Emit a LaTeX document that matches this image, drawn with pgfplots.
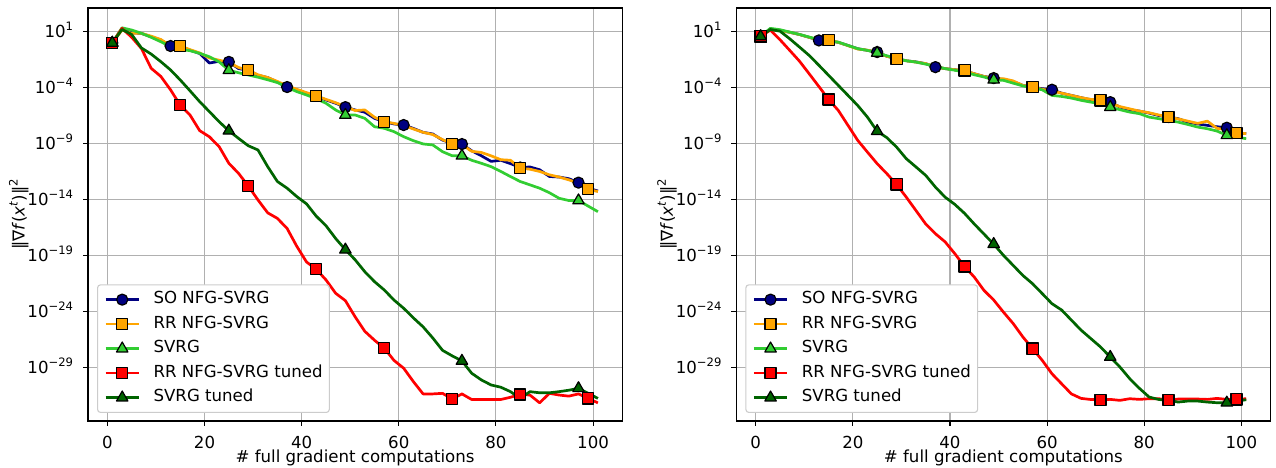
\documentclass[border=0pt]{standalone}
\usepackage{fontspec}
\setmainfont{DejaVu Sans}
\usepackage{pgfplots}
\usepackage{pgfplotstable}
\pgfplotsset{compat=1.18}
\definecolor{cnavy}{RGB}{0,0,128}
\definecolor{corange}{RGB}{255,165,0}
\definecolor{clime}{RGB}{50,205,50}
\definecolor{cred}{RGB}{255,0,0}
\definecolor{cdg}{RGB}{0,100,0}
\definecolor{cgrid}{RGB}{176,176,176}
\definecolor{cleg}{RGB}{204,204,204}
\newcommand\sx[1]{\raisebox{0.42em}{\fontsize{11.6pt}{12pt}\selectfont #1}}

\pgfplotstableread{
x so rr svrg rrt svrgt
1 1.0 1.0 1.0 1.0 1.0
3 15.8 14.1 22.4 20.0 15.8
5 7.94 7.08 14.1 3.16 5.62
7 7.08 7.08 7.24 3.16e-1 3.55e-1
9 3.55 3.98 3.16 5.37e-3 1e-1
11 1.78 2.0 1.26 1e-3 2.09e-2
13 5.25e-1 5.62e-1 4.57e-1 6.31e-5 3.80e-3
15 4.47e-1 5.25e-1 2.69e-1 2.63e-6 4.79e-4
17 2.24e-1 2.51e-1 2.0e-1 3.55e-7 5.25e-5
19 1.12e-1 1.26e-1 1.17e-1 1.41e-8 5.50e-6
21 1.58e-2 4.47e-2 5.75e-2 3.98e-9 7.08e-7
23 2.24e-2 2.82e-2 2.0e-2 5.25e-10 8.91e-8
25 2.0e-2 1.78e-2 3.55e-3 1.70e-11 1.38e-8
27 5.01e-3 6.31e-3 2.14e-3 2.14e-12 2.88e-9
29 3.55e-3 3.55e-3 1.35e-3 1.58e-13 6.31e-10
31 1.26e-3 1.41e-3 8.51e-4 8.91e-15 2.63e-10
33 7.94e-4 7.94e-4 5.01e-4 6.31e-16 8.51e-12
35 3.16e-4 3.55e-4 2.82e-4 2.0e-16 3.98e-13
37 1.12e-4 1.41e-4 1.07e-4 2.51e-17 1e-13
39 6.31e-5 7.08e-5 4.37e-5 6.31e-19 1.78e-14
41 3.16e-5 3.55e-5 2.19e-5 2.51e-20 3.98e-15
43 1.78e-5 1.78e-5 1e-5 5.62e-21 3.16e-16
45 7.94e-6 8.91e-6 3.98e-6 6.31e-22 4.47e-17
47 3.98e-6 4.47e-6 1e-6 3.98e-23 3.16e-18
49 1.78e-6 2.0e-6 3.55e-7 8.71e-24 3.16e-19
51 1e-6 8.91e-7 3.55e-7 3.16e-25 3.98e-20
53 6.31e-7 1e-6 1.78e-7 1.58e-26 3.39e-21
55 1.78e-7 2.24e-7 3.16e-8 2.51e-27 4.37e-22
57 8.91e-8 8.91e-8 2.29e-8 5.01e-28 7.94e-23
59 5.62e-8 6.31e-8 1.15e-8 3.98e-29 1e-23
61 4.47e-8 3.98e-8 4.07e-9 7.94e-30 1.82e-24
63 2.24e-8 2.0e-8 1.78e-9 5.01e-31 2.51e-25
65 1e-8 1e-8 9.12e-10 3.98e-32 3.98e-26
67 7.08e-9 6.31e-9 7.41e-10 3.98e-32 3.98e-27
69 2.0e-9 2.24e-9 1.86e-10 4.47e-32 3.16e-28
71 1e-9 8.91e-10 7.94e-11 1.41e-32 1e-28
73 8.91e-10 7.94e-10 7.94e-11 3.98e-32 3.55e-29
75 2.24e-10 2.0e-10 3.16e-11 1.26e-32 2.82e-30
77 7.94e-11 1.58e-10 1.70e-11 1.26e-32 7.08e-31
79 2.51e-11 7.94e-11 8.51e-12 1.26e-32 2.51e-31
81 3.16e-11 3.55e-11 3.16e-12 1.26e-32 1.58e-31
83 1.58e-11 3.16e-11 1.10e-12 2.0e-32 6.31e-32
85 7.08e-12 6.31e-12 3.98e-13 3.55e-32 1.58e-32
87 7.94e-12 5.01e-12 2.0e-13 3.16e-32 6.31e-32
89 4.47e-12 3.16e-12 1e-13 6.31e-33 5.01e-32
91 1.12e-12 1.58e-12 3.98e-14 4.47e-32 5.01e-32
93 1e-12 1e-12 1.26e-14 3.16e-32 6.31e-32
95 7.08e-13 5.62e-13 7.94e-15 2.51e-32 8.51e-32
97 3.16e-13 2.82e-13 7.94e-15 3.98e-32 1.26e-31
99 1e-13 7.94e-14 2.51e-15 1.58e-32 4.47e-32
101 5.62e-14 5.01e-14 7.94e-16 6.31e-33 1.58e-32
}\tabL

\pgfplotstableread{
x so rr svrg rrt svrgt
1 3.80 3.80 3.80 3.80 3.80
3 17.8 15.8 20.0 14.1 15.8
5 13.2 12.6 15.1 1.91 11.2
7 8.91 8.91 9.33 2.14e-1 2.34
9 5.62 5.62 5.75 2.34e-2 4.27e-1
11 3.16 3.16 3.31 1.74e-3 7.59e-2
13 1.66 1.78 2.0 1.26e-4 1e-2
15 1.58 1.78 1.41 8.71e-6 1.26e-3
17 1.12 1.12 1.17 9.12e-7 1.58e-4
19 5.89e-1 5.62e-1 5.89e-1 4.17e-8 2.0e-5
21 3.02e-1 2.82e-1 3.02e-1 1.91e-9 2.51e-6
23 2.14e-1 2.24e-1 2.14e-1 1.70e-10 2.29e-7
25 1.51e-1 1.41e-1 1.26e-1 1.58e-11 1.26e-8
27 6.31e-2 6.31e-2 7.08e-2 2.0e-12 3.31e-9
29 3.80e-2 3.80e-2 3.98e-2 2.19e-13 4.79e-10
31 2.51e-2 2.51e-2 2.51e-2 1.58e-14 4.37e-11
33 2.0e-2 1.91e-2 1.91e-2 1e-15 7.94e-12
35 1.38e-2 1.41e-2 1.26e-2 6.31e-17 1.41e-12
37 6.76e-3 7.08e-3 7.94e-3 8.51e-18 1.26e-13
39 5.01e-3 5.01e-3 5.01e-3 1.58e-18 1.58e-14
41 3.98e-3 3.98e-3 3.55e-3 1.38e-19 3.55e-15
43 3.16e-3 3.47e-3 2.51e-3 1e-20 5.62e-16
45 1.74e-3 1.74e-3 1.41e-3 1.12e-21 6.31e-17
47 1e-3 1e-3 8.91e-4 7.24e-23 7.94e-18
49 7.08e-4 6.31e-4 5.01e-4 1e-23 1e-18
51 5.37e-4 6.31e-4 4.47e-4 8.32e-25 1e-19
53 3.55e-4 3.98e-4 2.51e-4 7.94e-26 1.26e-20
55 1.58e-4 1.58e-4 1.41e-4 5.01e-27 1.58e-21
57 1.12e-4 1.12e-4 1e-4 4.47e-28 2.88e-22
59 7.94e-5 7.08e-5 6.31e-5 3.98e-29 3.72e-23
61 6.46e-5 5.01e-5 2.0e-5 2.51e-30 4.68e-24
63 3.16e-5 3.16e-5 1.62e-5 3.16e-31 1.26e-24
65 2.0e-5 2.0e-5 1.15e-5 3.98e-32 1.58e-25
67 1.26e-5 1.26e-5 7.24e-6 1.58e-32 2.0e-26
69 8.32e-6 8.91e-6 5.01e-6 1.26e-32 3.55e-27
71 7.24e-6 7.24e-6 3.63e-6 1.20e-32 6.31e-28
73 5.01e-6 3.98e-6 1.78e-6 1.29e-32 7.94e-29
75 1.82e-6 2.0e-6 1.05e-6 1.05e-32 1e-29
77 1.05e-6 1.26e-6 6.46e-7 1.48e-32 9.33e-31
79 7.94e-7 7.94e-7 4.68e-7 1.29e-32 1.26e-31
81 5.25e-7 5.62e-7 2.29e-7 1.48e-32 2.09e-32
83 3.16e-7 3.55e-7 1.66e-7 1.48e-32 1.26e-32
85 2.29e-7 2.29e-7 1.17e-7 1.12e-32 1.05e-32
87 1.66e-7 1.58e-7 8.13e-8 1.38e-32 7.41e-33
89 8.13e-8 1e-7 5.01e-8 1.38e-32 9.12e-33
91 5.62e-8 6.31e-8 2.95e-8 1.38e-32 9.12e-33
93 4.17e-8 1e-7 2.09e-8 1.29e-32 7.41e-33
95 3.16e-8 2.24e-8 1.29e-8 1.58e-32 6.46e-33
97 2.57e-8 1.78e-8 5.37e-9 1.29e-32 6.46e-33
99 9.12e-9 9.12e-9 3.80e-9 1.29e-32 9.12e-33
101 7.59e-9 7.59e-9 2.69e-9 1.48e-32 1.20e-32
}\tabR

\pgfplotsset{
  legend image code/.code={\draw[mark repeat=2,mark phase=2] plot coordinates {(0pt,0pt) (16.6pt,0pt) (33.3pt,0pt)};},
  ln/.style={line width=2.7pt, line join=round},
  pso/.style={ln, cnavy, mark=*, mark size=5.55pt, mark repeat=6, mark options={draw=black, line width=1.2pt, solid, fill=cnavy}},
  prr/.style={ln, corange, mark=square*, mark size=5.55pt, mark repeat=7, mark options={draw=black, line width=1.2pt, solid, fill=corange}},
  psv/.style={ln, clime, mark=triangle*, mark size=6.6pt, mark repeat=12, mark options={draw=black, line width=1.2pt, solid, fill=clime}},
  prrt/.style={ln, cred, mark=square*, mark size=5.55pt, mark repeat=7, mark options={draw=black, line width=1.2pt, solid, fill=cred}},
  psvt/.style={ln, cdg, mark=triangle*, mark size=6.6pt, mark repeat=12, mark options={draw=black, line width=1.2pt, solid, fill=cdg}},
}

\begin{document}
\begin{tikzpicture}
\path[use as bounding box] (0pt,0pt) rectangle (1276pt,468pt);
\begin{axis}[
    at={(88pt,47pt)}, anchor=south west,
    scale only axis, width=534.2pt, height=413pt,
    xmin=-4, xmax=106, ymode=log, ymin=1.5e-34, ymax=1.32e3,
    xtick={0,20,40,60,80,100}, xticklabels={0,20,40,60,80,100},
    ytick={1e1,1e-4,1e-9,1e-14,1e-19,1e-24,1e-29},
    yticklabels={10\sx{1},10\sx{−4},10\sx{−9},10\sx{−14},10\sx{−19},10\sx{−24},10\sx{−29}},
    yminorticks=false, xminorticks=false,
    grid=major, major grid style={cgrid, line width=1.1pt},
    axis line style={black, line width=1.1pt},
    tick align=outside, tick pos=left, major tick length=4.9pt,
    major tick style={black, line width=1.1pt},
    tick label style={font=\fontsize{16.6pt}{19.9pt}\selectfont, inner sep=0pt},
    xticklabel style={anchor=north, yshift=-9.8pt},
    yticklabel style={anchor=base east, xshift=-9.8pt, yshift=-6.05pt},
    label style={font=\fontsize{16.6pt}{19.9pt}\selectfont, inner sep=0pt},
    xlabel style={at={(axis description cs:0.5,-0.1007)}, anchor=base},
    ylabel style={at={(axis description cs:-0.111,0.5)}, anchor=south},
    xlabel={\# full gradient computations},
    ylabel={‖∇\textit{f}(\textit{x}\sx{\textit{t}})‖\sx{2}},
    legend style={at={(axis description cs:0.0169,0.0194)}, anchor=south west,
      draw=cleg, fill=white, rounded corners=3pt, line width=1.1pt,
      inner xsep=6.7pt, inner ysep=6.7pt,
      font=\fontsize{16.6pt}{19.9pt}\selectfont,
      row sep=8.3pt,
      nodes={inner sep=0pt, text height=12.4pt, text depth=3.8pt},
      /tikz/every odd column/.append style={column sep=13.3pt},
      cells={anchor=west}},
    legend cell align=left,
]
\addplot[pso] table[x=x,y=so]{\tabL};
\addplot[prr] table[x=x,y=rr]{\tabL};
\addplot[psv] table[x=x,y=svrg]{\tabL};
\addplot[prrt] table[x=x,y=rrt]{\tabL};
\addplot[psvt] table[x=x,y=svrgt]{\tabL};
\legend{SO NFG-SVRG, RR NFG-SVRG, SVRG, RR NFG-SVRG tuned, SVRG tuned}
\end{axis}
\begin{axis}[
    at={(736.3pt,47pt)}, anchor=south west,
    scale only axis, width=534.2pt, height=413pt,
    xmin=-4, xmax=106, ymode=log, ymin=1.5e-34, ymax=1.32e3,
    xtick={0,20,40,60,80,100}, xticklabels={0,20,40,60,80,100},
    ytick={1e1,1e-4,1e-9,1e-14,1e-19,1e-24,1e-29},
    yticklabels={10\sx{1},10\sx{−4},10\sx{−9},10\sx{−14},10\sx{−19},10\sx{−24},10\sx{−29}},
    yminorticks=false, xminorticks=false,
    grid=major, major grid style={cgrid, line width=1.1pt},
    axis line style={black, line width=1.1pt},
    tick align=outside, tick pos=left, major tick length=4.9pt,
    major tick style={black, line width=1.1pt},
    tick label style={font=\fontsize{16.6pt}{19.9pt}\selectfont, inner sep=0pt},
    xticklabel style={anchor=north, yshift=-9.8pt},
    yticklabel style={anchor=base east, xshift=-9.8pt, yshift=-6.05pt},
    label style={font=\fontsize{16.6pt}{19.9pt}\selectfont, inner sep=0pt},
    xlabel style={at={(axis description cs:0.5,-0.1007)}, anchor=base},
    ylabel style={at={(axis description cs:-0.111,0.5)}, anchor=south},
    xlabel={\# full gradient computations},
    ylabel={‖∇\textit{f}(\textit{x}\sx{\textit{t}})‖\sx{2}},
    legend style={at={(axis description cs:0.0169,0.0194)}, anchor=south west,
      draw=cleg, fill=white, rounded corners=3pt, line width=1.1pt,
      inner xsep=6.7pt, inner ysep=6.7pt,
      font=\fontsize{16.6pt}{19.9pt}\selectfont,
      row sep=8.3pt,
      nodes={inner sep=0pt, text height=12.4pt, text depth=3.8pt},
      /tikz/every odd column/.append style={column sep=13.3pt},
      cells={anchor=west}},
    legend cell align=left,
]
\addplot[pso] table[x=x,y=so]{\tabR};
\addplot[prr] table[x=x,y=rr]{\tabR};
\addplot[psv] table[x=x,y=svrg]{\tabR};
\addplot[prrt] table[x=x,y=rrt]{\tabR};
\addplot[psvt] table[x=x,y=svrgt]{\tabR};
\legend{SO NFG-SVRG, RR NFG-SVRG, SVRG, RR NFG-SVRG tuned, SVRG tuned}
\end{axis}
\end{tikzpicture}
\end{document}
